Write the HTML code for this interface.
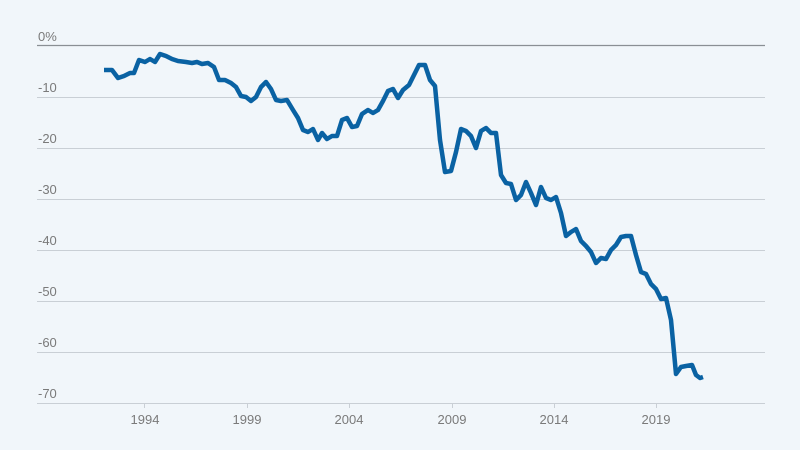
<!DOCTYPE html>
<html><head><meta charset="utf-8"><style>
html,body{margin:0;padding:0;background:#f1f6fa;}
svg{display:block}
text{font-family:"Liberation Sans",sans-serif;font-size:13px;fill:#7a7a7a}
</style></head><body>
<svg width="800" height="450" viewBox="0 0 800 450">
<rect width="800" height="450" fill="#f1f6fa"/>
<g stroke="#c9cfd5" stroke-width="1">
<line x1="37" y1="97.5" x2="765" y2="97.5"/>
<line x1="37" y1="148.5" x2="765" y2="148.5"/>
<line x1="37" y1="199.5" x2="765" y2="199.5"/>
<line x1="37" y1="250.5" x2="765" y2="250.5"/>
<line x1="37" y1="301.5" x2="765" y2="301.5"/>
<line x1="37" y1="352.5" x2="765" y2="352.5"/>
<line x1="37" y1="403.5" x2="765" y2="403.5"/>
<line x1="144.5" y1="404" x2="144.5" y2="408"/>
<line x1="247.5" y1="404" x2="247.5" y2="408"/>
<line x1="349.5" y1="404" x2="349.5" y2="408"/>
<line x1="452.5" y1="404" x2="452.5" y2="408"/>
<line x1="554.5" y1="404" x2="554.5" y2="408"/>
<line x1="656.5" y1="404" x2="656.5" y2="408"/>
</g>
<line x1="37" y1="45.5" x2="765" y2="45.5" stroke="#8a8f94" stroke-width="1.2"/>
<text x="38" y="41">0%</text>
<text x="38" y="92">-10</text>
<text x="38" y="143">-20</text>
<text x="38" y="194">-30</text>
<text x="38" y="245">-40</text>
<text x="38" y="296">-50</text>
<text x="38" y="347">-60</text>
<text x="38" y="398">-70</text>
<g text-anchor="middle">
<text x="145" y="424">1994</text><text x="247" y="424">1999</text><text x="349" y="424">2004</text>
<text x="452" y="424">2009</text><text x="554" y="424">2014</text><text x="656" y="424">2019</text>
</g>
<polyline fill="none" stroke="#0a62a3" stroke-width="4.5" stroke-linejoin="round" stroke-linecap="butt" points="104,70 112,70 118,78 124,76 130,73 134,73 139,60 145,62 150,59 155,62 160,54 166,56 172,59 178,61 186,62 192,63 197,62 202,64 208,63 214,67 219,80 225,80 231,83 236,87 241,96 246,97 251,101 256,97 261,87 266,82 271,89 276,100 281,101 287,100 293,110 298,118 303,130 308,132 313,129 318,140 322,133 327,139 332,136 337,136 342,120 347,118 352,127 357,126 362,114 368,110 373,113 378,110 383,101 388,91 393,89 398,98 403,90 409,85 414,75 419,65 425,65 430,80 435,86 440,140 445,172 451,171 456,152 461,129 466,131 471,136 476,148 481,131 486,128 491,133 496,133 501,175 506,183 511,184 516,200 521,195 526,182 531,193 536,205 541,187 546,198 551,200 556,197 561,213 566,236 571,232 576,229 581,241 586,246 591,252 596,263 601,258 606,259 611,250 616,245 621,237 626,236 631,236 636,255 641,272 646,274 651,284 656,289 661,299 666,298 671,320 676,374 681,367 686,366 692,365 696,375 700,378 703,377"/>
</svg>
</body></html>
